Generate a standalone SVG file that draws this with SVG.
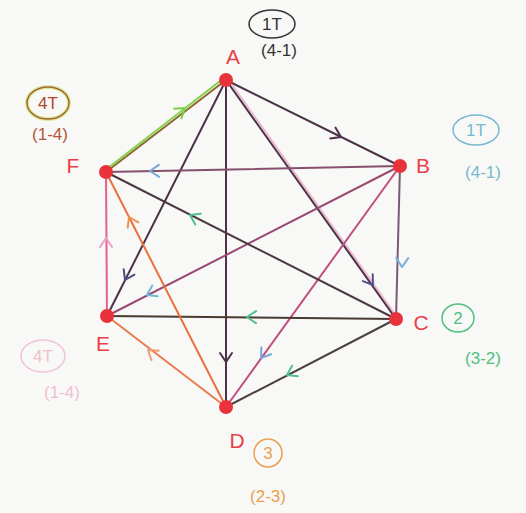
<svg xmlns="http://www.w3.org/2000/svg" xmlns:xlink="http://www.w3.org/1999/xlink" width="526" height="513" viewBox="0 0 526 513">
<style>
.e{fill:none;stroke-width:2;stroke-linecap:round}
.dk{stroke:#4b3248}
.ch{fill:none;stroke-width:2;stroke-linecap:round;stroke-linejoin:round}
.node{fill:#e8323c}
.lbl{font-family:"Liberation Sans",Arial,sans-serif;font-size:21px;fill:#e8404a;text-anchor:middle}
.note{font-family:"Liberation Sans",Arial,sans-serif;font-size:17px;text-anchor:middle}
</style>
<defs>
<path id="chev" d="M-9,-6 L0,0 L-9,6"/>
</defs>
<rect width="526" height="513" fill="#f8f8f6"/>
<g id="connectors">
<line class="e dk" x1="226" y1="80" x2="400" y2="166"/>
<line class="e" stroke="#e07aa8" stroke-width="1.5" opacity="0.5" x1="230" y1="82" x2="399" y2="320"/>
<line class="e dk" x1="226" y1="80" x2="396" y2="319"/>
<line class="e dk" x1="226" y1="80" x2="226" y2="407"/>
<line class="e dk" x1="226" y1="80" x2="107" y2="316"/>
<line class="e" stroke="#8a6a30" stroke-width="3" x1="106" y1="172" x2="226" y2="80"/>
<line class="e" stroke="#86d24a" stroke-width="3.5" x1="108" y1="168" x2="224" y2="78"/>
<line class="e" stroke="#86506e" x1="106" y1="172" x2="400" y2="166"/>
<line class="e" stroke="#9a4a72" x1="400" y1="166" x2="107" y2="316"/>
<line class="e" stroke="#c05080" x1="400" y1="166" x2="226" y2="407"/>
<line class="e" stroke="#7a5a78" x1="400" y1="166" x2="396" y2="319"/>
<line class="e" stroke="#4a3a40" x1="396" y1="319" x2="106" y2="172"/>
<line class="e" stroke="#4a3a30" x1="396" y1="319" x2="107" y2="316"/>
<line class="e" stroke="#4a4040" x1="396" y1="319" x2="226" y2="407"/>
<line class="e" stroke="#ea7040" stroke-width="2.5" x1="226" y1="407" x2="106" y2="172"/>
<line class="e" stroke="#ea7a50" stroke-width="2.5" x1="226" y1="407" x2="107" y2="316"/>
<line class="e" stroke="#e4608e" x1="107" y1="316" x2="106" y2="172"/>
<use href="#chev" class="ch" stroke="#4b3248" transform="translate(341,137) rotate(26.3)"/>
<use href="#chev" class="ch" stroke="#50508a" transform="translate(373,285) rotate(54.6)"/>
<use href="#chev" class="ch" stroke="#4b3248" transform="translate(226,362) rotate(90)"/>
<use href="#chev" class="ch" stroke="#4a4a80" transform="translate(125,280) rotate(116.8)"/>
<use href="#chev" class="ch" stroke="#7ad040" transform="translate(185,108) rotate(-37.5)"/>
<use href="#chev" class="ch" stroke="#78a8d8" transform="translate(150,171) rotate(178.8)"/>
<use href="#chev" class="ch" stroke="#50c090" transform="translate(190,215) rotate(206.9)"/>
<use href="#chev" class="ch" stroke="#f09050" transform="translate(129,217) rotate(-116.9)"/>
<use href="#chev" class="ch" stroke="#eaa0c8" transform="translate(106,238) rotate(-90.4)"/>
<use href="#chev" class="ch" stroke="#70b8d8" transform="translate(147,295) rotate(152.9)"/>
<use href="#chev" class="ch" stroke="#50c090" transform="translate(247,317) rotate(180.6)"/>
<use href="#chev" class="ch" stroke="#78a8d8" transform="translate(261,358) rotate(125.8)"/>
<use href="#chev" class="ch" stroke="#50c090" transform="translate(287,375) rotate(152.6)"/>
<use href="#chev" class="ch" stroke="#78b0d8" transform="translate(402,267) rotate(91.5)"/>
<use href="#chev" class="ch" stroke="#f0a070" transform="translate(148,350) rotate(-142.4)"/>
</g>
<g id="A">
<circle class="node" cx="226" cy="80" r="7"/>
<text class="lbl" x="233" y="64">A</text>
<ellipse cx="272" cy="24" rx="23" ry="14" fill="none" stroke="#333" stroke-width="1.5"/>
<text class="note" x="272" y="30" fill="#333">1T</text>
<text class="note" x="279" y="56" fill="#333">(4-1)</text>
</g>
<g id="B">
<circle class="node" cx="400" cy="166" r="7"/>
<text class="lbl" x="423" y="173">B</text>
<ellipse cx="476" cy="130" rx="23" ry="15" fill="none" stroke="#78b8d0" stroke-width="1.5"/>
<text class="note" x="476" y="136" fill="#78b8d0">1T</text>
<text class="note" x="483" y="178" fill="#78b8d0">(4-1)</text>
</g>
<g id="C">
<circle class="node" cx="396" cy="319" r="7"/>
<text class="lbl" x="421" y="330">C</text>
<ellipse cx="458" cy="318" rx="16" ry="14" fill="none" stroke="#50c080" stroke-width="1.5"/>
<text class="note" x="458" y="324" fill="#50c080">2</text>
<text class="note" x="483" y="364" fill="#50c080">(3-2)</text>
</g>
<g id="D">
<circle class="node" cx="226" cy="407" r="7"/>
<text class="lbl" x="237" y="448">D</text>
<ellipse cx="268" cy="453" rx="14" ry="14" fill="none" stroke="#e8a050" stroke-width="1.5"/>
<text class="note" x="268" y="459" fill="#e8a050">3</text>
<text class="note" x="268" y="502" fill="#e8a050">(2-3)</text>
</g>
<g id="E">
<circle class="node" cx="107" cy="316" r="7"/>
<text class="lbl" x="103" y="351">E</text>
<ellipse cx="43" cy="356" rx="22" ry="16" fill="none" stroke="#f0c4d4" stroke-width="1.5"/>
<text class="note" x="43" y="362" fill="#f0c0d0">4T</text>
<text class="note" x="62" y="398" fill="#f0c0d0">(1-4)</text>
</g>
<g id="F">
<circle class="node" cx="106" cy="172" r="7"/>
<text class="lbl" x="73" y="173">F</text>
<ellipse cx="48" cy="103" rx="21" ry="16" fill="none" stroke="#c8e060" stroke-width="4" opacity="0.6"/>
<ellipse cx="48" cy="103" rx="21" ry="16" fill="none" stroke="#a06830" stroke-width="1.5"/>
<text class="note" x="48" y="109" fill="#b04830">4T</text>
<text class="note" x="50" y="140" fill="#b05840" font-size="18">(1-4)</text>
</g>
</svg>
